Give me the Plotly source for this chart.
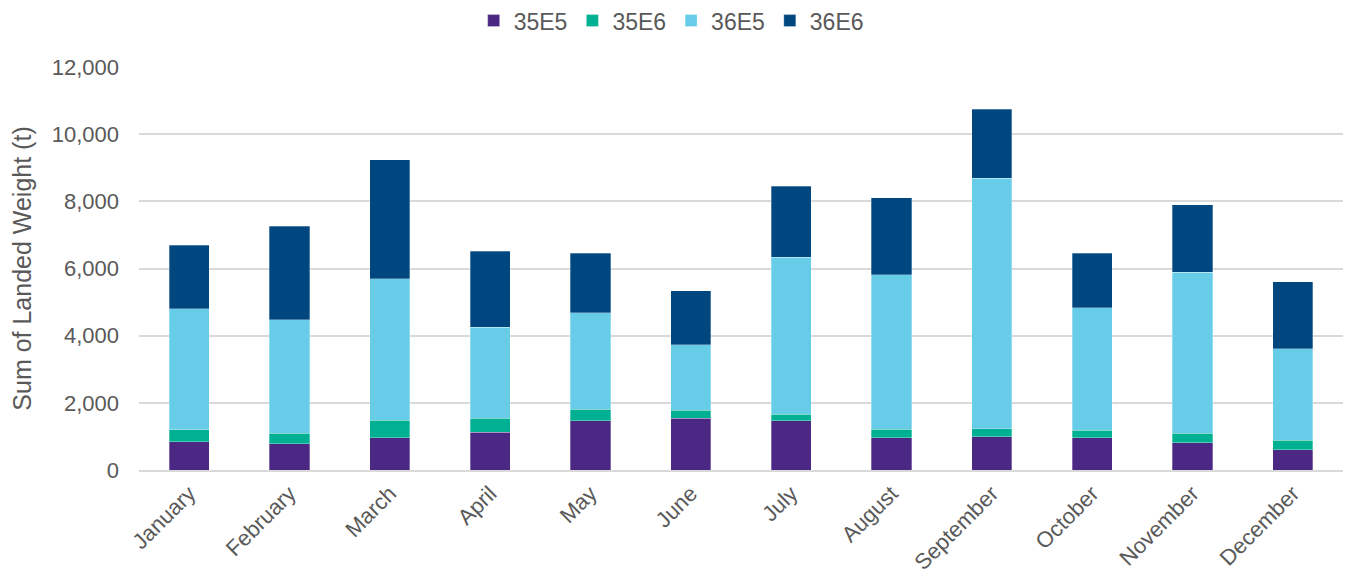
import plotly.graph_objects as go

months = ["January", "February", "March", "April", "May", "June",
          "July", "August", "September", "October", "November", "December"]

# segment heights (t)
e35e5 = [840, 788, 967, 1117, 1467, 1548, 1467, 967, 997, 967, 808, 608]
e35e6 = [358, 299, 509, 419, 338, 228, 189, 240, 231, 210, 279, 281]
e36e5 = [3598, 3391, 4225, 2713, 2882, 1955, 4672, 4604, 7459, 3649, 4804, 2723]
e36e6 = [1891, 2786, 3543, 2258, 1771, 1602, 2120, 2289, 2059, 1632, 2000, 1990]

series = [
    ("35E5", e35e5, "#4B2884"),
    ("35E6", e35e6, "#00B092"),
    ("36E5", e36e5, "#66CCE8"),
    ("36E6", e36e6, "#00467F"),
]

fig = go.Figure()
for name, vals, color in series:
    fig.add_trace(go.Bar(
        x=months, y=vals, name=name,
        marker=dict(color=color, line=dict(color="rgba(255,255,255,0.5)", width=0.6)),
    ))

text_col = "#595959"
fig.update_layout(
    barmode="stack",
    bargap=0.6,
    width=1352, height=583,
    # page body adds ~8px offset, margins compensate for it
    margin=dict(l=131, r=17, t=59, b=121, autoexpand=False),
    paper_bgcolor="white", plot_bgcolor="white",
    font=dict(family="Liberation Sans, Arial, sans-serif", color=text_col),
    legend=dict(orientation="h", x=0.442, xanchor="center",
                y=1.115, yanchor="middle",
                font=dict(size=23, color=text_col), itemwidth=30, traceorder="normal"),
    xaxis=dict(tickangle=-45, tickfont=dict(size=22, color=text_col), automargin=False,
               showline=True, linecolor="#D9D9D9", linewidth=2, ticks=""),
    yaxis=dict(range=[0, 12000], dtick=2000, tickformat=",", automargin=False,
               tickfont=dict(size=22, color=text_col),
               gridcolor="#D9D9D9", gridwidth=1.5, zeroline=False,
               ticklabelstandoff=19,
               title=dict(text="Sum of Landed Weight (t)", font=dict(size=25, color=text_col),
                          standoff=12)),
)

fig.write_html("out.html")
